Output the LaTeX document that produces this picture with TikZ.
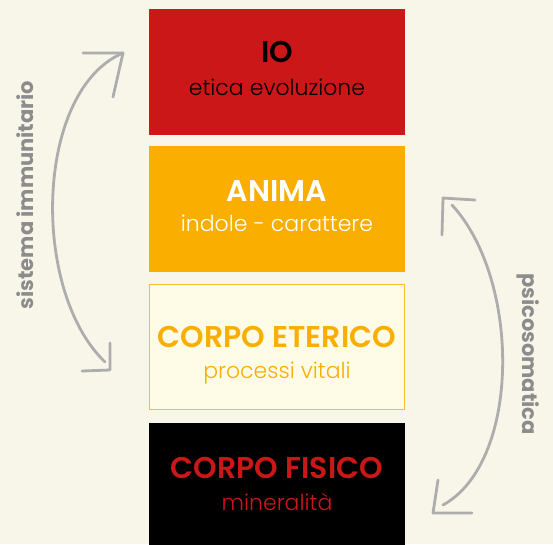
\documentclass[tikz,border=0pt]{standalone}
\usepackage{fontspec}
\setmainfont{Poppins}
\newfontfamily\ttlfont{Poppins SemiBold}
\newfontfamily\subfont{Poppins Light}
\newfontfamily\sidefont{Poppins Bold}
\usetikzlibrary{calc}
\definecolor{paper}{HTML}{F8F6E9}
\definecolor{ioRed}{HTML}{CC1719}
\definecolor{animaOr}{HTML}{F9AE00}
\definecolor{etCream}{HTML}{FEFCE6}
\definecolor{etLine}{HTML}{F9BE2A}
\definecolor{sideGray}{HTML}{8C8C8C}
\definecolor{arcGray}{HTML}{ADADAD}
\tikzset{%
  layer/.style={draw=none,shape=rectangle,minimum width=256pt,minimum height=126pt,inner sep=0},
  ttl/.style={anchor=base,inner sep=0,font=\ttlfont\fontsize{30}{30}\selectfont},
  sub/.style={anchor=base,inner sep=0,font=\subfont\fontsize{22}{22}\selectfont},
  sidetext/.style={inner sep=0,text=sideGray,font=\sidefont\fontsize{21}{21}\selectfont},
  sketch/.style={draw=arcGray,line width=2.8pt,line cap=round,line join=round}
}
\begin{document}
\begin{tikzpicture}[x=1pt,y=-1pt]
    \fill[paper] (0,0) rectangle (553,544);
    \useasboundingbox (0,0) rectangle (553,544);
    % the four layers
    \path
      (277,72)    node (io)[layer,fill=ioRed]{}
      (277,209)   node (anima)[layer,fill=animaOr]{}
      (277,347)   node (eterico)[layer,fill=etCream,draw=etLine,line width=1pt,minimum width=255pt,minimum height=125pt]{}
      (277,486)   node (fisico)[layer,fill=black]{};
    \node[ttl,text=black] at ($(io.north)+(0,54)$) {IO};
    \node[sub,text=black] at ($(io.north)+(0,87)$) {etica evoluzione};
    \node[ttl,text=white] at ($(anima.north)+(0,56)$) {ANIMA};
    \node[sub,text=white] at ($(anima.north)+(0,86)$) {indole - carattere};
    \node[ttl,text=animaOr] at ($(eterico.north)+(0,63)$) {CORPO ETERICO};
    \node[sub,text=animaOr] at ($(eterico.north)+(0,94)$) {processi vitali};
    \node[ttl,text=ioRed] at ($(fisico.north)+(0,56)$) {CORPO FISICO};
    \node[sub,text=ioRed] at ($(fisico.north)+(0,88)$) {mineralità};
    % side labels
    \node (immun)[sidetext,rotate=90] at (25,195) {sistema immunitario};
    \node (psico)[sidetext,rotate=-90] at (528,354) {psicosomatica};
    % sketched arcs
    \coordinate (lTop) at (123,53);
    \coordinate (lBot) at (110,370);
    \coordinate (rTop) at (443,198);
    \coordinate (rBot) at (433,513);
    \draw[sketch] (105,362) .. controls (30,290) and (35,90) .. (lTop);
    \draw[sketch] (83,53) -- (lTop) -- (113,97);
    \draw[sketch] (82,371) -- (lBot) -- (110,343);
    \draw[sketch] (452,205) .. controls (521,280) and (521,462) .. (443,505);
    \draw[sketch] (475,200) -- (rTop) -- (442,235);
    \draw[sketch] (472,513) -- (rBot) -- (438,480);
  \end{tikzpicture}
\end{document}
